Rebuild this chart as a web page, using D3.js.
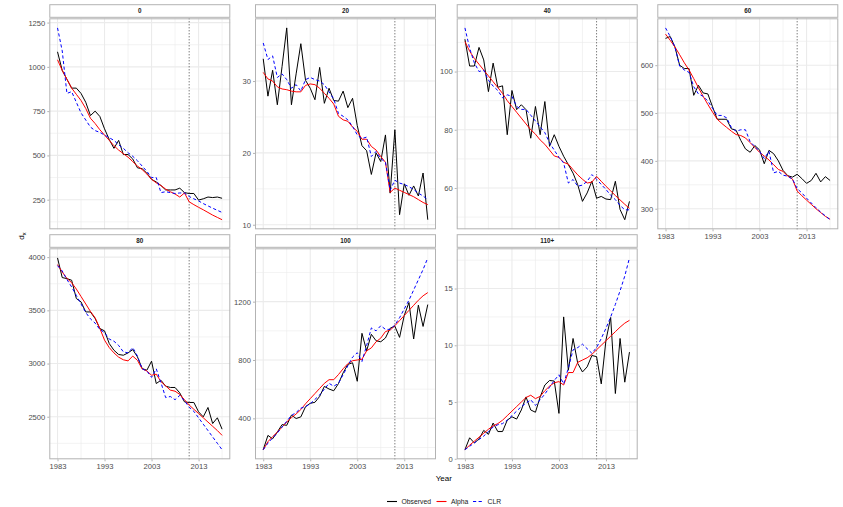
<!DOCTYPE html>
<html>
<head>
<meta charset="utf-8">
<script src="https://cdn.jsdelivr.net/npm/d3@7"></script>
<style>
    body { margin: 0; background: #ffffff; }
    text { font-family: "Liberation Sans", Arial, sans-serif; }
</style>
</head>
<body>
<script>
//wrap everything in a self-executing anonymous function to keep it local
(function(){

//years on the x axis
var years = d3.range(1983, 2019);
var xTicks = [1983, 1993, 2003, 2013];
var cutYear = 2011; //dotted line

//facet labels (age)
var facets = ["0", "20", "40", "60", "80", "100", "110+"];

//observed d_x
var observed0 = [1085, 980, 930, 880, 880, 850, 800, 725, 750, 720, 650, 590, 540, 585, 505, 505, 480, 430, 425, 400, 365, 350, 330, 305, 305, 305, 315, 290, 285, 285, 248, 255, 265, 262, 265, 258];
var observed20 = [33.1, 27.9, 31.5, 26.7, 32, 37.4, 26.7, 31, 35.2, 30.1, 29, 27.4, 31.9, 26.9, 29, 27.3, 27.2, 28.6, 26.3, 27.6, 23.8, 21, 20.3, 17, 20, 18.8, 22.5, 14.4, 23.2, 11.4, 15.7, 14.1, 15.4, 14, 17.2, 10.7];
var observed40 = [111.1, 101.9, 101.9, 108.3, 104, 93.1, 102.9, 94.6, 95.1, 78.3, 93.5, 86.9, 88.6, 86.9, 77.1, 88, 78.3, 89.7, 74.3, 78.3, 74.3, 70.9, 68, 65.1, 61.1, 55.4, 58.3, 62.3, 56.5, 57.1, 56.2, 56, 62.3, 52.6, 49.1, 55.4];
var observed60 = [656, 660, 638, 600, 593, 593, 537, 558, 542, 540, 513, 487, 487, 487, 467, 464, 443, 425, 418, 432, 423, 394, 422, 415, 400, 380, 369, 366, 372, 363, 353, 359, 374, 356, 367, 359];
var observed80 = [3993, 3808, 3798, 3783, 3611, 3579, 3485, 3485, 3423, 3329, 3307, 3188, 3125, 3085, 3078, 3100, 3131, 3063, 2953, 2937, 3022, 2812, 2843, 2787, 2775, 2775, 2724, 2640, 2634, 2634, 2546, 2499, 2587, 2436, 2490, 2383];
var observed100 = [185, 283, 260, 306, 357, 352, 422, 399, 410, 480, 503, 510, 550, 619, 601, 589, 638, 712, 770, 781, 654, 983, 863, 976, 932, 925, 951, 1018, 1032, 955, 1106, 1194, 944, 1176, 1030, 1180];
var observed110 = [0.8, 1.85, 1.4, 1.75, 2.5, 2.15, 3.15, 2.4, 2.4, 3.4, 3.7, 3.5, 4.3, 5.45, 4.3, 4.1, 5.45, 6.5, 6.9, 6.85, 4.0, 12.5, 7.8, 10.6, 8.4, 7.65, 8.1, 9.1, 9.0, 6.6, 10.45, 12.45, 5.75, 10.6, 6.75, 9.4];

//Alpha model fit
var alpha0 = [1040, 980, 930, 880, 845, 810, 765, 710, 680, 645, 615, 585, 555, 530, 510, 490, 465, 440, 420, 395, 365, 345, 330, 310, 295, 282, 265, 288, 238, 222, 207, 193, 178, 163, 150, 137];
var alpha20 = [31.2, 30.3, 30, 29.2, 28.9, 28.8, 28.6, 28.5, 28.5, 29.4, 29.6, 29.5, 29, 28.3, 27.6, 26.8, 25.1, 24.6, 24.4, 23.6, 23, 21.9, 21.9, 20.9, 20.4, 19.5, 18.7, 14.5, 15.1, 14.8, 14.5, 14.2, 13.9, 13.5, 13.1, 12.8];
var alpha40 = [110.3, 107, 104.5, 102.5, 100.5, 98.5, 96.5, 94.5, 92.5, 90, 88, 86, 84, 82, 80, 78.5, 76.5, 75, 73, 71, 70.5, 68.8, 68.2, 66.3, 64.5, 63, 61.7, 62, 64, 62.3, 60.6, 59, 57.4, 55.9, 54.4, 53];
var alpha60 = [665, 652, 638, 622, 605, 590, 572, 553, 535, 518, 502, 487, 478, 470, 462, 455, 453, 448, 438, 428, 418, 410, 402, 392, 382, 378, 368, 362, 337, 327, 318, 309, 300, 292, 284, 278];
var alpha80 = [3930, 3860, 3800, 3760, 3700, 3630, 3560, 3490, 3430, 3330, 3220, 3150, 3100, 3060, 3035, 3025, 3070, 3030, 2950, 2930, 2890, 2900, 2830, 2790, 2750, 2740, 2710, 2660, 2610, 2570, 2530, 2490, 2450, 2410, 2370, 2325];
var alpha100 = [185, 240, 275, 305, 340, 375, 405, 430, 460, 500, 535, 570, 605, 640, 665, 665, 700, 740, 775, 795, 800, 805, 863, 883, 925, 950, 995, 1005, 1035, 1070, 1105, 1140, 1175, 1210, 1240, 1262];
var alpha110 = [0.8, 1.2, 1.55, 1.9, 2.25, 2.6, 2.9, 3.1, 3.4, 3.8, 4.2, 4.6, 5.0, 5.4, 5.6, 5.3, 5.5, 6.0, 6.4, 6.7, 6.8, 6.5, 7.6, 7.6, 8.5, 8.7, 8.9, 9.2, 9.6, 10.0, 10.4, 10.8, 11.2, 11.6, 11.95, 12.2];

//CLR model fit
var clr0 = [1220, 1090, 850, 860, 800, 740, 700, 660, 640, 630, 615, 600, 585, 560, 540, 515, 495, 470, 440, 410, 375, 375, 290, 295, 290, 285, 288, 288, 268, 255, 243, 228, 215, 202, 190, 178];
var clr20 = [35.3, 33, 33.5, 30.5, 31, 30.2, 29, 29.5, 28.6, 30.2, 30.5, 30.2, 30, 29.5, 28.5, 27.5, 25.5, 25.1, 24.6, 23.7, 22.5, 22, 22.2, 19.5, 20.2, 19.2, 18.7, 14.8, 16.2, 15.8, 15.6, 15.3, 14.9, 14.4, 14, 13.5];
var clr40 = [115, 108, 103, 100, 100.5, 97, 95, 93.5, 91, 92, 91.5, 88, 87, 87, 85, 83, 81, 79, 75.5, 73, 70.5, 68.6, 61.7, 62.9, 60.6, 61, 62.3, 64.6, 63, 61.2, 59.5, 57.5, 56, 54, 52.5, 52.5];
var clr60 = [678, 660, 638, 598, 590, 585, 555, 540, 535, 525, 510, 495, 495, 490, 470, 462, 465, 465, 440, 430, 420, 405, 420, 375, 378, 370, 368, 362, 342, 333, 322, 312, 302, 293, 285, 277];
var clr80 = [3920, 3870, 3790, 3720, 3640, 3560, 3480, 3420, 3380, 3320, 3290, 3230, 3210, 3170, 3110, 3100, 3150, 3070, 2950, 2930, 2870, 2950, 2820, 2680, 2690, 2660, 2700, 2650, 2590, 2550, 2490, 2430, 2370, 2310, 2250, 2190];
var clr100 = [185, 230, 265, 300, 340, 380, 420, 440, 470, 480, 500, 530, 560, 600, 640, 620, 640, 700, 760, 820, 850, 790, 900, 1020, 1000, 1035, 1010, 1010, 1040, 1090, 1150, 1210, 1280, 1350, 1420, 1500];
var clr110 = [0.8, 1.1, 1.4, 1.7, 2.0, 2.4, 2.8, 3.0, 3.1, 3.4, 3.8, 4.2, 4.6, 4.9, 5.2, 4.7, 5.2, 5.7, 6.3, 6.9, 7.4, 6.6, 8.0, 9.6, 9.8, 10.1, 9.7, 9.3, 9.8, 10.6, 11.5, 12.5, 13.6, 14.8, 16.1, 17.7];

//y tick labels for each facet
var yTicks0 = [250, 500, 750, 1000, 1250];
var yTicks20 = [10, 20, 30];
var yTicks40 = [60, 80, 100];
var yTicks60 = [300, 400, 500, 600];
var yTicks80 = [2500, 3000, 3500, 4000];
var yTicks100 = [400, 800, 1200];
var yTicks110 = [0, 5, 10, 15];

//legend entries
var seriesNames = ["Observed", "Alpha", "CLR"];
var seriesColors = ["#000000", "#ff0000", "#0000ff"];
var seriesDash = [null, null, "3.2,2.4"];

//table of panels built from the arrays above
var panels = [
    {label: facets[0], series: [observed0, alpha0, clr0], ticks: yTicks0},
    {label: facets[1], series: [observed20, alpha20, clr20], ticks: yTicks20},
    {label: facets[2], series: [observed40, alpha40, clr40], ticks: yTicks40},
    {label: facets[3], series: [observed60, alpha60, clr60], ticks: yTicks60},
    {label: facets[4], series: [observed80, alpha80, clr80], ticks: yTicks80},
    {label: facets[5], series: [observed100, alpha100, clr100], ticks: yTicks100},
    {label: facets[6], series: [observed110, alpha110, clr110], ticks: yTicks110}
];

//frame layout
var width = 843,
    height = 507,
    colX = [49.3, 255, 456.7, 657.3],
    rowY = [18.3, 248.3],
    panelW = 181,
    panelH = 211,
    stripH = 12.6,
    gridCol = "#ebebeb",
    borderCol = "#b3b3b3",
    tickTextCol = "#4d4d4d";

var svg = d3.select("body")
    .append("svg")
    .attr("width", width)
    .attr("height", height);

//shared x scale (5% expansion like ggplot)
var xMin = d3.min(years), xMax = d3.max(years), xPad = (xMax - xMin) * 0.05;

panels.forEach(function(p, i){
    var col = i % 4, row = Math.floor(i / 4);
    var x0 = colX[col], y0 = rowY[row];

    var x = d3.scaleLinear()
        .domain([xMin - xPad, xMax + xPad])
        .range([0, panelW]);

    var all = d3.merge(p.series);
    var lo = d3.min(all), hi = d3.max(all), pad = (hi - lo) * 0.05;
    var y = d3.scaleLinear()
        .domain([lo - pad, hi + pad])
        .range([panelH, 0]);

    //strip
    svg.append("rect")
        .attr("x", x0 + 0.5)
        .attr("y", y0 - stripH - 1)
        .attr("width", panelW - 1)
        .attr("height", stripH)
        .attr("fill", "#ffffff")
        .attr("stroke", borderCol)
        .attr("stroke-width", 1);
    svg.append("text")
        .attr("x", x0 + panelW / 2)
        .attr("y", y0 - 1 - stripH / 2)
        .attr("dy", "0.35em")
        .attr("text-anchor", "middle")
        .attr("font-size", "6.3px")
        .attr("font-weight", "bold")
        .attr("fill", "#1a1a1a")
        .text(p.label);

    var g = svg.append("g")
        .attr("transform", "translate(" + x0 + "," + y0 + ")");

    //minor grid lines
    var xStep = xTicks[1] - xTicks[0];
    var xMinor = xTicks.map(function(t){ return t + xStep / 2; }).concat([xTicks[0] - xStep / 2])
        .filter(function(t){ return t >= x.domain()[0] && t <= x.domain()[1]; });
    var yStep = p.ticks[1] - p.ticks[0];
    var yMinor = [p.ticks[0] - yStep / 2].concat(p.ticks.map(function(t){ return t + yStep / 2; }))
        .filter(function(t){ return t >= y.domain()[0] && t <= y.domain()[1]; });

    g.selectAll(".xminor").data(xMinor).enter().append("line")
        .attr("x1", function(d){ return x(d); }).attr("x2", function(d){ return x(d); })
        .attr("y1", 0).attr("y2", panelH)
        .attr("stroke", gridCol).attr("stroke-width", 0.6);
    g.selectAll(".yminor").data(yMinor).enter().append("line")
        .attr("y1", function(d){ return y(d); }).attr("y2", function(d){ return y(d); })
        .attr("x1", 0).attr("x2", panelW)
        .attr("stroke", gridCol).attr("stroke-width", 0.6);

    //major grid lines
    g.selectAll(".xmajor").data(xTicks).enter().append("line")
        .attr("x1", function(d){ return x(d); }).attr("x2", function(d){ return x(d); })
        .attr("y1", 0).attr("y2", panelH)
        .attr("stroke", gridCol).attr("stroke-width", 1.1);
    g.selectAll(".ymajor").data(p.ticks).enter().append("line")
        .attr("y1", function(d){ return y(d); }).attr("y2", function(d){ return y(d); })
        .attr("x1", 0).attr("x2", panelW)
        .attr("stroke", gridCol).attr("stroke-width", 1.1);

    //dotted cut line
    g.append("line")
        .attr("x1", x(cutYear)).attr("x2", x(cutYear))
        .attr("y1", 0).attr("y2", panelH)
        .attr("stroke", "#333333")
        .attr("stroke-width", 0.9)
        .attr("stroke-dasharray", "1,2");

    //series lines
    var line = d3.line()
        .x(function(d, k){ return x(years[k]); })
        .y(function(d){ return y(d); });

    p.series.forEach(function(s, k){
        g.append("path")
            .datum(s)
            .attr("d", line)
            .attr("fill", "none")
            .attr("stroke", seriesColors[k])
            .attr("stroke-width", 1)
            .attr("stroke-dasharray", seriesDash[k]);
    });

    //panel border
    g.append("rect")
        .attr("x", 0.5).attr("y", 0.5)
        .attr("width", panelW - 1).attr("height", panelH - 1)
        .attr("fill", "none")
        .attr("stroke", borderCol)
        .attr("stroke-width", 1);

    //y axis
    var yAxis = d3.axisLeft(y).tickValues(p.ticks).tickSize(2).tickPadding(2).tickFormat(d3.format("d"));
    var ya = g.append("g").call(yAxis);
    styleAxis(ya);

    //x axis on bottom panels and the last panel of row 1
    if (row == 1 || col == 3){
        var xAxis = d3.axisBottom(x).tickValues(xTicks).tickSize(2).tickPadding(2).tickFormat(d3.format("d"));
        var xa = g.append("g")
            .attr("transform", "translate(0," + panelH + ")")
            .call(xAxis);
        styleAxis(xa);
    };
});

function styleAxis(a){
    a.select(".domain").remove();
    a.attr("font-family", null);
    a.selectAll(".tick line").attr("stroke", borderCol);
    a.selectAll(".tick text")
        .attr("fill", tickTextCol)
        .attr("font-size", "7.6px")
        .attr("font-family", "Liberation Sans, Arial, sans-serif");
};

//axis titles
svg.append("text")
    .attr("x", (colX[0] + colX[3] + panelW) / 2)
    .attr("y", 481)
    .attr("text-anchor", "middle")
    .attr("font-size", "8px")
    .attr("fill", "#000000")
    .text("Year");

var yt = svg.append("text")
    .attr("transform", "translate(24," + 236 + ") rotate(-90)")
    .attr("text-anchor", "middle")
    .attr("font-size", "8px")
    .attr("fill", "#000000");
yt.append("tspan").text("d");
yt.append("tspan").attr("font-size", "5.6px").attr("dy", "1.5").text("x");

//legend
var legend = svg.append("g").attr("transform", "translate(387,501.5)");
var offsets = [0, 49.5, 86];
seriesNames.forEach(function(n, k){
    var lg = legend.append("g").attr("transform", "translate(" + offsets[k] + ",0)");
    lg.append("line")
        .attr("x1", 0).attr("x2", 10)
        .attr("y1", 0).attr("y2", 0)
        .attr("stroke", seriesColors[k])
        .attr("stroke-width", 1.1)
        .attr("stroke-dasharray", seriesDash[k]);
    lg.append("text")
        .attr("x", 14.5)
        .attr("y", 0)
        .attr("dy", "0.35em")
        .attr("font-size", "6.8px")
        .attr("fill", "#1a1a1a")
        .text(n);
});

})();
</script>
</body>
</html>
